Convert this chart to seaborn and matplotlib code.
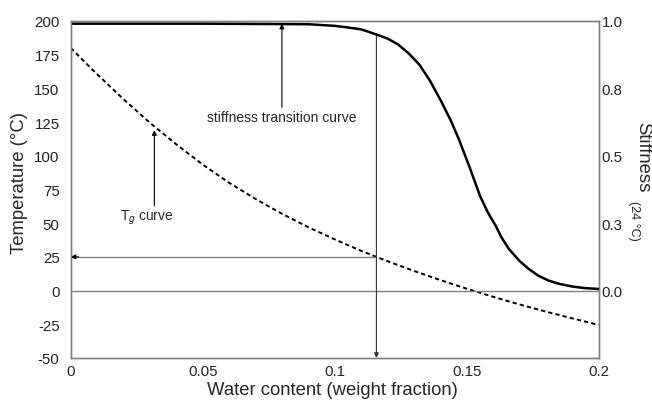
import numpy as np
import pandas as pd
import seaborn as sns
import matplotlib.pyplot as plt

# Tg curve (temperature, left axis)
tg_water = [0, 0.01, 0.02, 0.03, 0.04, 0.05, 0.06, 0.07, 0.08, 0.09, 0.10,
            0.11, 0.12, 0.13, 0.14, 0.15, 0.16, 0.17, 0.18, 0.19, 0.20]
tg_temp = [180, 160.5, 142, 124.5, 108.5, 93.5, 80, 68, 57, 47, 38,
           29.5, 21.8, 14.6, 7.8, 1.4, -4.6, -10.3, -15.6, -20.6, -25.5]

# stiffness transition curve (right axis)
st_water = [0, 0.05, 0.09, 0.10, 0.105, 0.11, 0.1158, 0.12, 0.124, 0.128,
            0.132, 0.136, 0.1406, 0.144, 0.147, 0.151, 0.155, 0.158, 0.161,
            0.163, 0.166, 0.17, 0.1735, 0.177, 0.181, 0.185, 0.19, 0.195, 0.20]
st_value = [0.99, 0.99, 0.988, 0.982, 0.976, 0.969, 0.95, 0.935, 0.913, 0.88,
            0.839, 0.78, 0.697, 0.63, 0.562, 0.46, 0.352, 0.29, 0.24,
            0.20, 0.154, 0.11, 0.08, 0.056, 0.037, 0.025, 0.015, 0.009, 0.006]

left_ticks = [-50, -25, 0, 25, 50, 75, 100, 125, 150, 175, 200]
x_ticks = [0, 0.05, 0.1, 0.15, 0.2]
x_labels = ["0", "0.05", "0.1", "0.15", "0.2"]
right_ticks = [0, 0.25, 0.5, 0.75, 1.0]
right_labels = ["0.0", "0.3", "0.5", "0.8", "1.0"]

w_mark = 0.1158   # water content at 24 °C
t_mark = 25

tg_df = pd.DataFrame({"water": tg_water, "temp": tg_temp})
st_df = pd.DataFrame({"water": st_water, "stiff": st_value})

sns.set_style("white")
plt.rcParams["font.family"] = ["Liberation Sans", "DejaVu Sans"]
plt.rcParams["mathtext.fontset"] = "custom"
plt.rcParams["mathtext.it"] = "Liberation Sans:italic"
plt.rcParams["mathtext.rm"] = "Liberation Sans"

fig = plt.figure(figsize=(6.52, 4.02), dpi=100)
ax = fig.add_axes([0.1084, 0.107, 0.8099, 0.8383])
ax2 = ax.twinx()

grey = "#808080"

sns.lineplot(data=tg_df, x="water", y="temp", ax=ax, color="black",
             linewidth=1.4, linestyle=(0, (2.2, 1.6)))
sns.lineplot(data=st_df, x="water", y="stiff", ax=ax2, color="black",
             linewidth=1.8)

ax.axhline(0, color=grey, linewidth=1)

ax.set_xlim(0, 0.2)
ax.set_ylim(-50, 200)
ax2.set_ylim(-0.25, 1.0)

ax.set_xticks(x_ticks)
ax.set_xticklabels(x_labels)
ax.set_yticks(left_ticks)
ax.set_yticklabels([str(t) for t in left_ticks])
ax2.set_yticks(right_ticks)
ax2.set_yticklabels(right_labels)

ax.tick_params(axis="x", length=0, pad=4, labelsize=10.8, colors="#222222")
ax.tick_params(axis="y", length=0, pad=8, labelsize=10.8, colors="#222222")
ax2.tick_params(axis="y", length=0, pad=2, labelsize=10.8, colors="#222222")

for a in (ax, ax2):
    for s in a.spines.values():
        s.set_color(grey)
        s.set_linewidth(1)
ax.set_xlabel("")
ax.set_ylabel("")
ax2.set_ylabel("")

# arrows
arrow = dict(arrowstyle="-|>", color="black", lw=0.8, shrinkA=0, shrinkB=0,
             mutation_scale=7)
t_top = np.interp(w_mark, st_water, st_value) * 200
ax.annotate("", xy=(w_mark, -50), xytext=(w_mark, t_top),
            arrowprops=dict(arrow, color="#333333"))
ax.plot([0.002, w_mark], [t_mark, t_mark], color=grey, lw=1)
ax.annotate("", xy=(0, t_mark), xytext=(0.003, t_mark), arrowprops=arrow)

ax.annotate("", xy=(0.08, 198), xytext=(0.08, 136), arrowprops=arrow)
ax.text(0.08, 129, "stiffness transition curve", ha="center", va="center",
        fontsize=10)
ax.annotate("", xy=(0.0317, 119), xytext=(0.0317, 63), arrowprops=arrow)
ax.text(0.029, 55, r"T$_{g}$ curve", ha="center", va="center", fontsize=10)

# axis titles
fig.text(20 / 652, 1 - 183 / 402, "Temperature (°C)", rotation=90,
         ha="center", va="center", fontsize=13.3)
fig.text(332 / 652, 1 - 391 / 402, "Water content (weight fraction)",
         ha="center", va="center", fontsize=13.3)
fig.text(643 / 652, 1 - 157 / 402, "Stiffness", rotation=270,
         ha="center", va="center", fontsize=13.3)
fig.text(634 / 652, 1 - 221 / 402, "(24 °C)", rotation=270,
         ha="center", va="center", fontsize=9)

fig.savefig("out.png", dpi=100)
